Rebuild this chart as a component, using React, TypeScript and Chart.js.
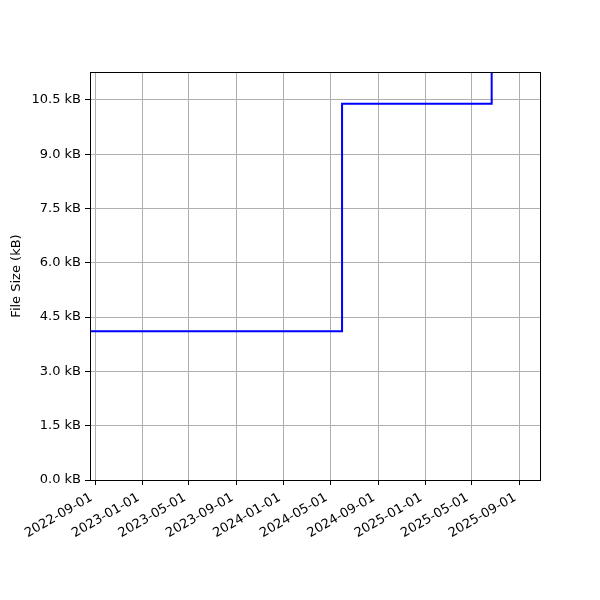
import React, { useEffect, useRef } from "react";
import { Chart, registerables } from "chart.js";

Chart.register(...registerables);

// Data: commit dates and file sizes (kB)
const dates: string[] = ["2022-08-18", "2024-05-31", "2025-06-22"];
const sizesKB: number[] = [4.106, 10.39, 12.0];

// Axis ticks
const xTickDates: string[] = [
  "2022-09-01", "2023-01-01", "2023-05-01", "2023-09-01", "2024-01-01",
  "2024-05-01", "2024-09-01", "2025-01-01", "2025-05-01", "2025-09-01",
];
const yTickValues: number[] = [0, 1.5, 3, 4.5, 6, 7.5, 9, 10.5];
const xMinDate = "2022-08-18";
const xMaxDate = "2025-10-25";
const yMax = 11.27;

const toMs = (s: string) => {
  const [y, m, d] = s.split("-").map(Number);
  return Date.UTC(y, m - 1, d);
};
const fmt = (ms: number) => {
  const d = new Date(ms);
  const mm = String(d.getUTCMonth() + 1).padStart(2, "0");
  const dd = String(d.getUTCDate()).padStart(2, "0");
  return `${d.getUTCFullYear()}-${mm}-${dd}`;
};

const FONT = { family: "'DejaVu Sans', sans-serif", size: 13 };

const framePlugin = {
  id: "frame",
  afterDatasetsDraw(chart: any) {
    const { ctx, chartArea: a } = chart;
    ctx.save();
    ctx.strokeStyle = "#000";
    ctx.lineWidth = 1;
    ctx.strokeRect(Math.round(a.left) + 0.5, Math.round(a.top) + 0.5, Math.round(a.right - a.left), Math.round(a.bottom - a.top));
    ctx.restore();
  },
};

export default function App() {
  const ref = useRef<HTMLCanvasElement | null>(null);
  useEffect(() => {
    if (!ref.current) return;
    const chart = new Chart(ref.current, {
      type: "line",
      data: {
        datasets: [
          {
            data: dates.map((d, i) => ({ x: toMs(d), y: sizesKB[i] })),
            borderColor: "#0000ff",
            borderWidth: 2,
            pointRadius: 0,
            stepped: "before",
            fill: false,
          },
        ],
      },
      options: {
        animation: false,
        responsive: false,
        layout: { padding: { left: 0, right: 60, top: 72, bottom: 0 } },
        plugins: { legend: { display: false }, tooltip: { enabled: false } },
        scales: {
          x: {
            type: "linear",
            min: toMs(xMinDate),
            max: toMs(xMaxDate),
            afterBuildTicks: (s: any) => {
              s.ticks = xTickDates.map((d) => ({ value: toMs(d) }));
            },
            afterFit: (s: any) => {
              s.height = 120;
            },
            ticks: {
              autoSkip: false,
              minRotation: 30,
              maxRotation: 30,
              color: "#000",
              font: FONT,
              padding: 5,
              labelOffset: -4,
              callback: (v: any) => fmt(Number(v)),
            },
            grid: { color: "#b0b0b0", lineWidth: 1, tickColor: "#000", tickLength: 5 },
            border: { color: "#000", width: 1 },
          },
          y: {
            type: "linear",
            min: 0,
            max: yMax,
            afterBuildTicks: (s: any) => {
              s.ticks = yTickValues.map((v) => ({ value: v }));
            },
            afterFit: (s: any) => {
              s.width = 90;
            },
            ticks: {
              color: "#000",
              font: FONT,
              padding: 4,
              callback: (v: any) => `${Number(v).toFixed(1)} kB`,
            },
            grid: { color: "#b0b0b0", lineWidth: 1, tickColor: "#000", tickLength: 5 },
            border: { color: "#000", width: 1 },
            title: {
              display: true,
              text: "File Size (kB)",
              color: "#000",
              font: FONT,
              padding: { top: 9, bottom: 0 },
            },
          },
        },
      },
      plugins: [framePlugin],
    } as any);
    return () => chart.destroy();
  }, []);
  return (
    <div style={{ position: "fixed", left: 0, top: 0, width: 600, height: 600, background: "#fff" }}>
      <canvas ref={ref} width={600} height={600} />
    </div>
  );
}
